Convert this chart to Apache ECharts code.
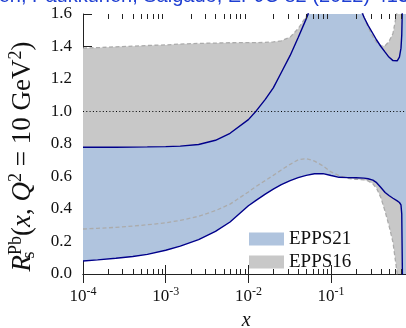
<!DOCTYPE html>
<html>
<head>
<meta charset="utf-8">
<script src="https://cdn.jsdelivr.net/npm/echarts@6/dist/echarts.min.js"></script>
<style>
  html, body { margin: 0; padding: 0; background: #fff; }
  #chart { width: 406px; height: 328px; }
</style>
</head>
<body>
<div id="chart"></div>
<script>
// Strange-quark nuclear modification ratio R_s^Pb at Q^2 = 10 GeV^2:
// EPPS21 and EPPS16 uncertainty bands.

// sampling points in x, shared by both bands
const xs = [1e-4, 1.5e-4, 2.5e-4, 4e-4, 6e-4, 1e-3, 1.5e-3, 2.5e-3, 4e-3, 6e-3,
            0.01, 0.0125, 0.016, 0.02, 0.025, 0.032, 0.04, 0.05, 0.063, 0.08,
            0.1, 0.125, 0.16, 0.2, 0.25, 0.28, 0.32, 0.355, 0.4, 0.45,
            0.5, 0.56, 0.63, 0.67, 0.7, 0.715, 0.73, 0.745, 0.76, 0.8, 0.88];

const epps21Upper = [0.780, 0.780, 0.780, 0.781, 0.782, 0.784, 0.787, 0.797, 0.823, 0.866,
                     0.950, 1.005, 1.075, 1.145, 1.240, 1.345, 1.455, 1.570, 1.700, 1.830,
                     1.920, 1.930, 1.850, 1.700, 1.580, 1.530, 1.480, 1.440, 1.400, 1.365,
                     1.335, 1.313, 1.312, 1.335, 1.390, 1.470, 1.680, 1.950, 2.300, 3.000, 4.000];
const epps21Lower = [0.080, 0.087, 0.097, 0.108, 0.121, 0.146, 0.172, 0.212, 0.262, 0.320,
                     0.420, 0.455, 0.492, 0.522, 0.550, 0.575, 0.593, 0.607, 0.617, 0.618,
                     0.606, 0.595, 0.593, 0.592, 0.590, 0.586, 0.578, 0.562, 0.532, 0.502,
                     0.483, 0.466, 0.450, 0.440, 0.425, 0.370, -0.050, -0.600, -1.200, -2.000, -3.000];

const epps16Upper = [1.390, 1.393, 1.398, 1.402, 1.406, 1.410, 1.415, 1.419, 1.421, 1.423,
                     1.424, 1.424, 1.425, 1.428, 1.435, 1.458, 1.510, 1.585, 1.700, 1.850,
                     1.950, 2.000, 1.950, 1.780, 1.580, 1.520, 1.460, 1.425, 1.403, 1.405,
                     1.430, 1.480, 1.620, 1.750, 1.900, 1.980, 2.060, 2.150, 2.250, 2.500, 3.000];
const epps16Lower = [0.277, 0.281, 0.287, 0.295, 0.303, 0.315, 0.330, 0.355, 0.390, 0.430,
                     0.505, 0.540, 0.575, 0.607, 0.640, 0.675, 0.703, 0.710, 0.695, 0.665,
                     0.628, 0.605, 0.589, 0.583, 0.579, 0.573, 0.555, 0.527, 0.470, 0.385,
                     0.300, 0.195, 0.000, -0.150, -0.300, -0.370, -0.440, -0.510, -0.580, -0.800, -1.000];

// axes
const xMin = 1e-4, xMax = 0.88;
const yMin = 0, yMax = 1.6, yStep = 0.2;
const bandNames = ['EPPS21', 'EPPS16'];
const titleText = 'Eskola, Paakkinen, Paukkunen, Salgado, EPJC 82 (2022) 413';

const C21 = { fill: '#b0c4de', line: '#00008b' };
const C16 = { fill: '#c8c8c8', line: '#ababab' };
const SERIF = '"Liberation Serif", "DejaVu Serif", serif';

const pairs = (x, y) => x.map((v, i) => [v, y[i]]);

// minor ticks of the log axis: 2..9 x 10^k inside the range
const minorTicks = [];
for (let k = -4; k <= 0; k++) {
  for (let m = 2; m <= 9; m++) {
    const v = m * Math.pow(10, k);
    if (v > xMin && v < xMax) minorTicks.push([v]);
  }
}

// filled band between a lower and an upper curve, drawn as one polygon
function band(name, lo, hi, color, z) {
  return {
    type: 'custom', name, z, silent: true, clip: true,
    data: xs.map((x, i) => [x, lo[i], hi[i]]),
    encode: { x: 0, y: [1, 2] },
    itemStyle: { color },
    renderItem: (params, api) => {
      if (params.dataIndexInside !== 0) return null;
      const n = params.dataInsideLength;
      const top = [], bottom = [];
      for (let i = 0; i < n; i++) {
        const x = api.value(0, i);
        bottom.push(api.coord([x, api.value(1, i)]));
        top.push(api.coord([x, api.value(2, i)]));
      }
      return { type: 'polygon', shape: { points: top.concat(bottom.reverse()) },
               style: { fill: color, stroke: null } };
    }
  };
}

function edge(name, ys, color, width, dash, z, extra) {
  return Object.assign({
    type: 'line', name, z, silent: true, symbol: 'none', showSymbol: false,
    data: pairs(xs, ys),
    lineStyle: { color, width, type: dash || 'solid' }
  }, extra || {});
}

const chart = echarts.init(document.getElementById('chart'), null, { renderer: 'canvas' });

const frame = { lineStyle: { color: '#222', width: 1 } };
const tickStyle = { inside: true, length: 9, lineStyle: { color: '#222', width: 1 } };
const gridWidth = (Math.log10(xMax) - Math.log10(xMin)) * 82.7;

chart.setOption({
  animation: false,
  backgroundColor: '#fff',
  graphic: [{
    type: 'text', right: -3, top: -14, z: 10,
    style: { text: titleText, font: '20px "Liberation Sans", Arial, sans-serif', fill: '#1f3fd2' }
  }],
  grid: { left: 83, top: 14, width: gridWidth, height: 260, outerBoundsMode: 'none', containLabel: false },
  legend: {
    data: bandNames.map(n => ({ name: n, icon: 'rect' })),
    orient: 'vertical', left: 244, top: 223,
    itemWidth: 35, itemHeight: 13, itemGap: 1,
    selectedMode: false,
    itemStyle: { borderWidth: 0 },
    textStyle: { fontFamily: SERIF, fontSize: 19, color: '#111', lineHeight: 22, padding: 0 }
  },
  xAxis: [{
    type: 'log', logBase: 10, min: xMin, max: xMax, position: 'bottom',
    name: 'x', nameLocation: 'middle', nameGap: 37,
    nameTextStyle: { fontFamily: SERIF, fontStyle: 'italic', fontSize: 20, color: '#111' },
    axisLine: frame, splitLine: { show: false }, axisTick: tickStyle,
    axisLabel: {
      margin: 12,
      formatter: v => {
        const e = Math.log10(v);
        if (Math.abs(e - Math.round(e)) > 1e-6) return '';
        return '{b|10}{s|' + Math.round(e) + '}';
      },
      rich: {
        b: { fontFamily: SERIF, fontSize: 17, color: '#111' },
        s: { fontFamily: SERIF, fontSize: 12, color: '#111', padding: [0, 0, 9, 0] }
      }
    }
  }, {
    type: 'log', logBase: 10, min: xMin, max: xMax, position: 'top',
    axisLine: frame, splitLine: { show: false }, axisTick: tickStyle,
    axisLabel: { show: false }
  }],
  yAxis: [{
    type: 'value', min: yMin, max: yMax, interval: yStep, position: 'left',
    name: '{i|R}{sub|s}{sup|Pb}{n|(}{i|x}{n|, }{i|Q}{sup|2}{n| = 10 GeV}{sup|2}{n|)}',
    nameLocation: 'middle', nameGap: 44, nameRotate: 90,
    nameTextStyle: {
      padding: [0, 25, 0, 0],
      rich: {
        i: { fontFamily: SERIF, fontStyle: 'italic', fontSize: 27, color: '#111' },
        n: { fontFamily: SERIF, fontSize: 27, color: '#111' },
        sup: { fontFamily: SERIF, fontSize: 18, color: '#111', padding: [0, 0, 14, 0] },
        sub: { fontFamily: SERIF, fontSize: 18, color: '#111', padding: [12, 0, 0, 0], width: 0.01 }
      }
    },
    axisLine: frame, splitLine: { show: false }, axisTick: tickStyle,
    axisLabel: { margin: 11, formatter: v => v.toFixed(1), fontFamily: SERIF, fontSize: 17, color: '#111' }
  }, {
    type: 'value', min: yMin, max: yMax, interval: yStep, position: 'right',
    axisLine: frame, splitLine: { show: false }, axisTick: tickStyle,
    axisLabel: { show: false }
  }],
  series: [
    band('EPPS16', epps16Lower, epps16Upper, C16.fill, 1),
    band('EPPS21', epps21Lower, epps21Upper, C21.fill, 2),
    edge('epps16-upper', epps16Upper, C16.line, 1.3, [4, 2.5], 3),
    edge('epps16-lower', epps16Lower, C16.line, 1.3, [4, 2.5], 3),
    edge('epps21-upper', epps21Upper, C21.line, 1.4, null, 4, {
      markLine: { silent: true, symbol: 'none', label: { show: false },
        lineStyle: { color: '#000', width: 1, type: [1, 2.3] }, data: [{ yAxis: 1 }] }
    }),
    edge('epps21-lower', epps21Lower, C21.line, 1.4, null, 4),
    // minor ticks on the log axis, bottom and top
    {
      type: 'custom', name: 'minor-ticks', silent: true, z: 5, clip: false,
      data: minorTicks,
      renderItem: (params, api) => {
        const cs = params.coordSys;
        const px = Math.round(api.coord([api.value(0), yMin])[0]) + 0.5;
        const len = 5;
        const style = { stroke: '#222', lineWidth: 1 };
        return { type: 'group', children: [
          { type: 'line', shape: { x1: px, y1: cs.y + cs.height, x2: px, y2: cs.y + cs.height - len }, style },
          { type: 'line', shape: { x1: px, y1: cs.y, x2: px, y2: cs.y + len }, style }
        ] };
      }
    }
  ]
});
</script>
</body>
</html>
